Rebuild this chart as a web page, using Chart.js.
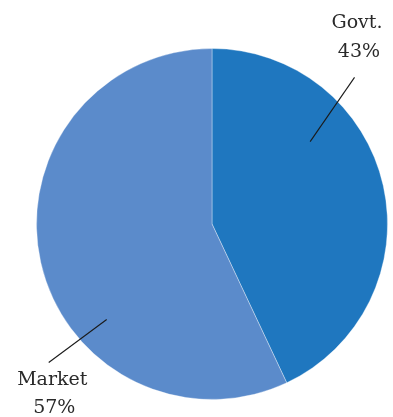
<!DOCTYPE html>
<html>
<head>
<meta charset="utf-8">
<script src="https://cdn.jsdelivr.net/npm/chart.js@4/dist/chart.umd.min.js"></script>
<style>
  html, body { margin: 0; padding: 0; background: #ffffff; }
  canvas { display: block; }
</style>
</head>
<body>
<canvas id="chart" width="393" height="417"></canvas>
<script>
// Funding shares
const categories = ['Govt.', 'Market'];
const shares = [43, 57];
const sliceColors = ['#1f77bf', '#5b8bcb'];

// Callout placement, expressed relative to the pie centre in units of its radius
const callouts = [
  { line: [[50, 0.73], [44.2, 1.165]], text: [0.826, -1.145], gap: 0.165 },
  { line: [[227.8, 0.81], [229.7, 1.22]], text: [-0.91, 0.89], gap: 0.16 }
];

const calloutPlugin = {
  id: 'callouts',
  afterDatasetsDraw(chart) {
    const ctx = chart.ctx;
    const arcs = chart.getDatasetMeta(0).data;
    const ds = chart.data.datasets[0];
    const total = ds.data.reduce((a, b) => a + b, 0);
    ctx.save();
    arcs.forEach((arc, i) => {
      const c = callouts[i];
      const cx = arc.x, cy = arc.y, r = arc.outerRadius;
      const pt = ([deg, f]) => {
        const a = deg * Math.PI / 180;
        return [cx + Math.sin(a) * f * r, cy - Math.cos(a) * f * r];
      };
      const p0 = pt(c.line[0]), p1 = pt(c.line[1]);
      ctx.strokeStyle = '#1a1a1a';
      ctx.lineWidth = 1.1;
      ctx.beginPath();
      ctx.moveTo(p0[0], p0[1]);
      ctx.lineTo(p1[0], p1[1]);
      ctx.stroke();

      const tx = cx + c.text[0] * r, ty = cy + c.text[1] * r;
      ctx.fillStyle = '#2a2a2a';
      ctx.font = '19px "DejaVu Serif"';
      ctx.textAlign = 'center';
      ctx.textBaseline = 'middle';
      ctx.fillText(chart.data.labels[i], tx, ty);
      const pct = Math.round(ds.data[i] / total * 100) + '%';
      ctx.fillText(pct, tx + 2, ty + c.gap * r);
    });
    ctx.restore();
  }
};

new Chart(document.getElementById('chart'), {
  type: 'pie',
  data: {
    labels: categories,
    datasets: [{
      data: shares,
      backgroundColor: sliceColors,
      borderColor: 'rgba(255,255,255,0.35)',
      borderWidth: 1
    }]
  },
  options: {
    responsive: false,
    animation: false,
    layout: { padding: { left: 36, right: 5, top: 48, bottom: 17 } },
    plugins: {
      legend: { display: false },
      tooltip: { enabled: false }
    }
  },
  plugins: [calloutPlugin]
});
</script>
</body>
</html>
